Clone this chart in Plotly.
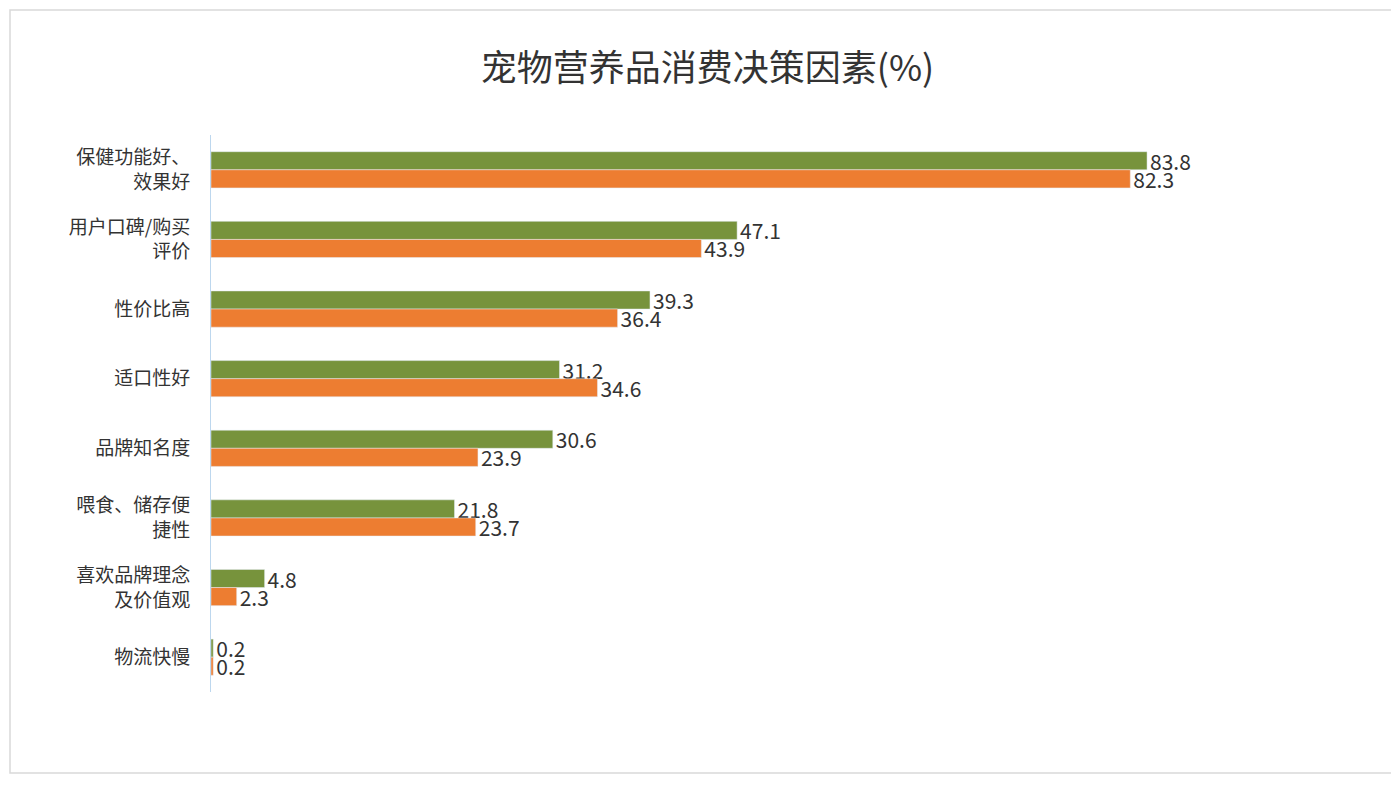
import plotly.graph_objects as go

categories = ["保健功能好、<br>效果好", "用户口碑/购买<br>评价", "性价比高", "适口性好", "品牌知名度",
              "喂食、储存便<br>捷性", "喜欢品牌理念<br>及价值观", "物流快慢"]
series_a = [83.8, 47.1, 39.3, 31.2, 30.6, 21.8, 4.8, 0.2]
series_b = [82.3, 43.9, 36.4, 34.6, 23.9, 23.7, 2.3, 0.2]

W, H = 1399, 795
L, R, T, B = 203, 79, 127, 111
pw, ph = W - L - R, H - T - B

fig = go.Figure()
fig.add_trace(go.Bar(y=categories, x=series_a, orientation="h", marker_color="#77933C",
                     text=[f"{v:.1f}" for v in series_a], textposition="outside",
                     constraintext="none",
                     textfont=dict(size=21, color="#333"), cliponaxis=False))
fig.add_trace(go.Bar(y=categories, x=series_b, orientation="h", marker_color="#ED7D31",
                     text=[f"{v:.1f}" for v in series_b], textposition="outside",
                     constraintext="none",
                     textfont=dict(size=21, color="#333"), cliponaxis=False))
fig.update_layout(
    width=W, height=H, barmode="group", bargap=0.48, bargroupgap=0,
    showlegend=False, plot_bgcolor="white", paper_bgcolor="white",
    font=dict(family="Noto Sans CJK SC", color="#333"),
    title=dict(text="宠物营养品消费决策因素(%)", x=0.5, y=0.94, xanchor="center",
               font=dict(size=36, color="#333")),
    margin=dict(l=L, r=R, t=T, b=B),
    xaxis=dict(range=[0, 100], showgrid=False, showticklabels=False, zeroline=False),
    yaxis=dict(autorange="reversed", showline=True, linecolor="#BDD7EE", linewidth=1,
               ticks="", tickfont=dict(size=19, color="#333"), ticklabelstandoff=16),
    shapes=[dict(type="rect", xref="paper", yref="paper",
                 x0=-(L - 2) / pw, x1=1 + (R - 12) / pw,
                 y0=-(B - 30) / ph, y1=1 + (T - 2) / ph,
                 line=dict(color="#D9D9D9", width=1.5))],
)
fig.write_html("out.html")
